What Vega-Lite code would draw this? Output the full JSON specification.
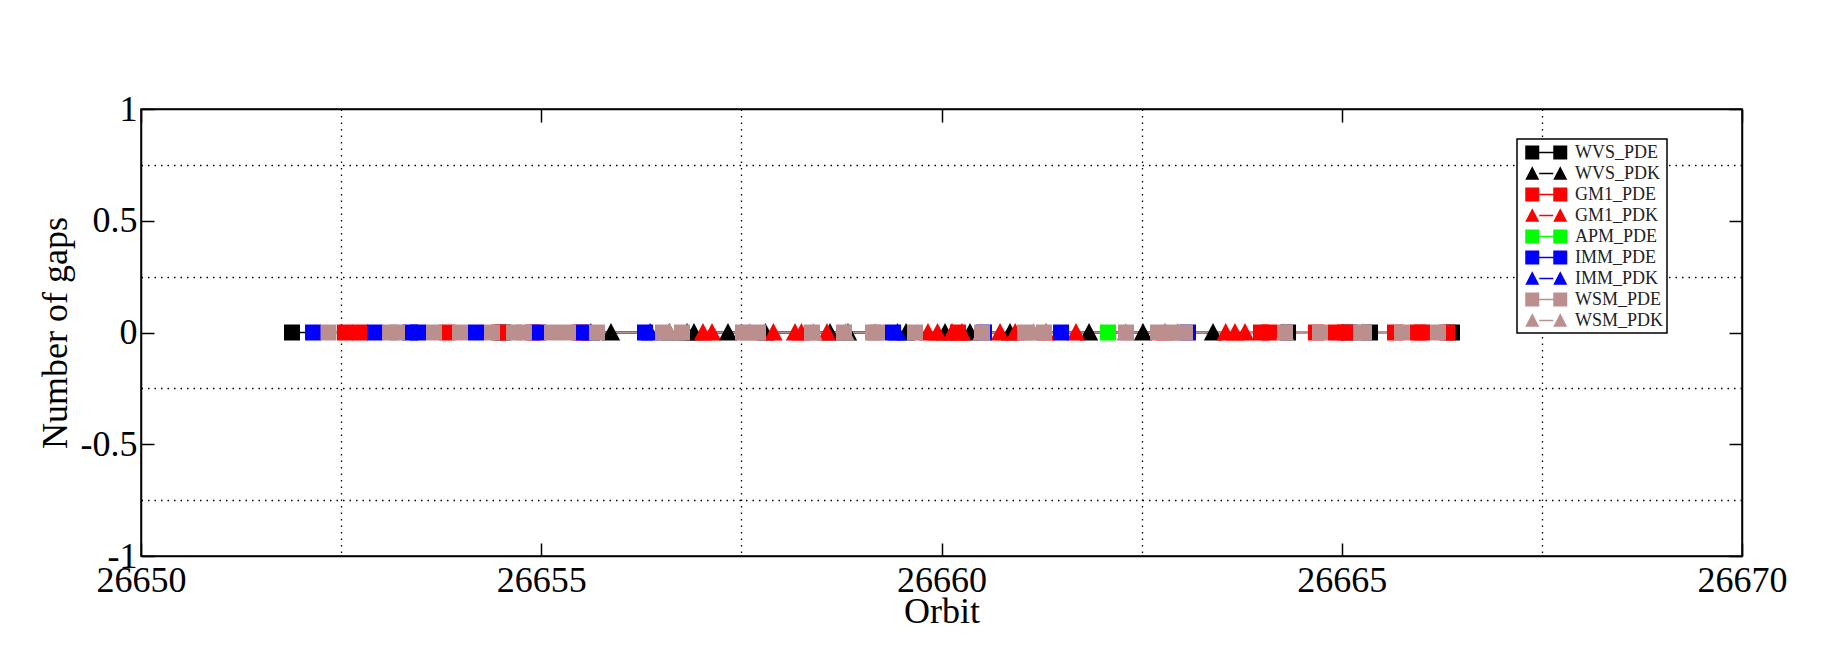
{
  "$schema": "https://vega.github.io/schema/vega-lite/v6.json",
  "width": 1601,
  "height": 447,
  "autosize": {"type": "none"},
  "padding": {"left": 141, "top": 109, "right": 106, "bottom": 94},
  "background": "white",
  "config": {
    "view": {"stroke": "black", "strokeWidth": 1.5},
    "font": "Liberation Serif",
    "axis": {"labelFont": "Liberation Serif", "titleFont": "Liberation Serif", "labelColor": "black", "titleColor": "black", "titleFontWeight": "normal", "domainColor": "black", "tickColor": "black", "labelOverlap": false, "labelFlush": false},
    "legend": {"strokeColor": "black", "strokeWidth": 1.5, "fillColor": "white"}
  },
  "data": {
    "values": [
      {"series": "WVS_PDE", "orbit": 26651.886, "gaps": 0},
      {"series": "WVS_PDE", "orbit": 26654.522, "gaps": 0},
      {"series": "WVS_PDE", "orbit": 26664.329, "gaps": 0},
      {"series": "WVS_PDE", "orbit": 26665.09, "gaps": 0},
      {"series": "WVS_PDE", "orbit": 26665.353, "gaps": 0},
      {"series": "WVS_PDE", "orbit": 26666.377, "gaps": 0},
      {"series": "WVS_PDK", "orbit": 26655.62, "gaps": 0},
      {"series": "WVS_PDK", "orbit": 26655.871, "gaps": 0},
      {"series": "WVS_PDK", "orbit": 26656.6, "gaps": 0},
      {"series": "WVS_PDK", "orbit": 26656.821, "gaps": 0},
      {"series": "WVS_PDK", "orbit": 26656.908, "gaps": 0},
      {"series": "WVS_PDK", "orbit": 26657.333, "gaps": 0},
      {"series": "WVS_PDK", "orbit": 26657.8, "gaps": 0},
      {"series": "WVS_PDK", "orbit": 26658.607, "gaps": 0},
      {"series": "WVS_PDK", "orbit": 26658.832, "gaps": 0},
      {"series": "WVS_PDK", "orbit": 26659.557, "gaps": 0},
      {"series": "WVS_PDK", "orbit": 26660.044, "gaps": 0},
      {"series": "WVS_PDK", "orbit": 26660.356, "gaps": 0},
      {"series": "WVS_PDK", "orbit": 26660.856, "gaps": 0},
      {"series": "WVS_PDK", "orbit": 26661.843, "gaps": 0},
      {"series": "WVS_PDK", "orbit": 26662.517, "gaps": 0},
      {"series": "WVS_PDK", "orbit": 26663.392, "gaps": 0},
      {"series": "GM1_PDE", "orbit": 26652.548, "gaps": 0},
      {"series": "GM1_PDE", "orbit": 26652.736, "gaps": 0},
      {"series": "GM1_PDE", "orbit": 26653.823, "gaps": 0},
      {"series": "GM1_PDE", "orbit": 26654.48, "gaps": 0},
      {"series": "GM1_PDE", "orbit": 26654.897, "gaps": 0},
      {"series": "GM1_PDE", "orbit": 26655.484, "gaps": 0},
      {"series": "GM1_PDE", "orbit": 26660.206, "gaps": 0},
      {"series": "GM1_PDE", "orbit": 26663.991, "gaps": 0},
      {"series": "GM1_PDE", "orbit": 26664.091, "gaps": 0},
      {"series": "GM1_PDE", "orbit": 26664.678, "gaps": 0},
      {"series": "GM1_PDE", "orbit": 26664.928, "gaps": 0},
      {"series": "GM1_PDE", "orbit": 26665.04, "gaps": 0},
      {"series": "GM1_PDE", "orbit": 26665.665, "gaps": 0},
      {"series": "GM1_PDE", "orbit": 26665.953, "gaps": 0},
      {"series": "GM1_PDE", "orbit": 26666.002, "gaps": 0},
      {"series": "GM1_PDE", "orbit": 26666.315, "gaps": 0},
      {"series": "GM1_PDK", "orbit": 26657.02, "gaps": 0},
      {"series": "GM1_PDK", "orbit": 26657.133, "gaps": 0},
      {"series": "GM1_PDK", "orbit": 26657.9, "gaps": 0},
      {"series": "GM1_PDK", "orbit": 26658.17, "gaps": 0},
      {"series": "GM1_PDK", "orbit": 26658.25, "gaps": 0},
      {"series": "GM1_PDK", "orbit": 26658.57, "gaps": 0},
      {"series": "GM1_PDK", "orbit": 26659.831, "gaps": 0},
      {"series": "GM1_PDK", "orbit": 26659.95, "gaps": 0},
      {"series": "GM1_PDK", "orbit": 26660.131, "gaps": 0},
      {"series": "GM1_PDK", "orbit": 26660.256, "gaps": 0},
      {"series": "GM1_PDK", "orbit": 26660.731, "gaps": 0},
      {"series": "GM1_PDK", "orbit": 26660.92, "gaps": 0},
      {"series": "GM1_PDK", "orbit": 26661.305, "gaps": 0},
      {"series": "GM1_PDK", "orbit": 26661.68, "gaps": 0},
      {"series": "GM1_PDK", "orbit": 26662.792, "gaps": 0},
      {"series": "GM1_PDK", "orbit": 26663.55, "gaps": 0},
      {"series": "GM1_PDK", "orbit": 26663.666, "gaps": 0},
      {"series": "GM1_PDK", "orbit": 26663.791, "gaps": 0},
      {"series": "APM_PDE", "orbit": 26662.08, "gaps": 0},
      {"series": "IMM_PDE", "orbit": 26652.149, "gaps": 0},
      {"series": "IMM_PDE", "orbit": 26652.923, "gaps": 0},
      {"series": "IMM_PDE", "orbit": 26653.36, "gaps": 0},
      {"series": "IMM_PDE", "orbit": 26653.46, "gaps": 0},
      {"series": "IMM_PDE", "orbit": 26654.185, "gaps": 0},
      {"series": "IMM_PDE", "orbit": 26654.959, "gaps": 0},
      {"series": "IMM_PDE", "orbit": 26655.522, "gaps": 0},
      {"series": "IMM_PDE", "orbit": 26656.296, "gaps": 0},
      {"series": "IMM_PDE", "orbit": 26659.394, "gaps": 0},
      {"series": "IMM_PDE", "orbit": 26660.531, "gaps": 0},
      {"series": "IMM_PDE", "orbit": 26661.493, "gaps": 0},
      {"series": "IMM_PDE", "orbit": 26663.079, "gaps": 0},
      {"series": "IMM_PDK", "orbit": 26656.36, "gaps": 0},
      {"series": "IMM_PDK", "orbit": 26659.45, "gaps": 0},
      {"series": "WSM_PDE", "orbit": 26652.342, "gaps": 0},
      {"series": "WSM_PDE", "orbit": 26653.111, "gaps": 0},
      {"series": "WSM_PDE", "orbit": 26653.198, "gaps": 0},
      {"series": "WSM_PDE", "orbit": 26653.66, "gaps": 0},
      {"series": "WSM_PDE", "orbit": 26653.985, "gaps": 0},
      {"series": "WSM_PDE", "orbit": 26654.385, "gaps": 0},
      {"series": "WSM_PDE", "orbit": 26654.66, "gaps": 0},
      {"series": "WSM_PDE", "orbit": 26654.784, "gaps": 0},
      {"series": "WSM_PDE", "orbit": 26655.134, "gaps": 0},
      {"series": "WSM_PDE", "orbit": 26655.334, "gaps": 0},
      {"series": "WSM_PDE", "orbit": 26655.696, "gaps": 0},
      {"series": "WSM_PDE", "orbit": 26656.521, "gaps": 0},
      {"series": "WSM_PDE", "orbit": 26656.758, "gaps": 0},
      {"series": "WSM_PDE", "orbit": 26657.52, "gaps": 0},
      {"series": "WSM_PDE", "orbit": 26657.708, "gaps": 0},
      {"series": "WSM_PDE", "orbit": 26658.382, "gaps": 0},
      {"series": "WSM_PDE", "orbit": 26658.782, "gaps": 0},
      {"series": "WSM_PDE", "orbit": 26659.144, "gaps": 0},
      {"series": "WSM_PDE", "orbit": 26659.194, "gaps": 0},
      {"series": "WSM_PDE", "orbit": 26659.669, "gaps": 0},
      {"series": "WSM_PDE", "orbit": 26660.506, "gaps": 0},
      {"series": "WSM_PDE", "orbit": 26661.043, "gaps": 0},
      {"series": "WSM_PDE", "orbit": 26661.28, "gaps": 0},
      {"series": "WSM_PDE", "orbit": 26662.305, "gaps": 0},
      {"series": "WSM_PDE", "orbit": 26662.705, "gaps": 0},
      {"series": "WSM_PDE", "orbit": 26662.88, "gaps": 0},
      {"series": "WSM_PDE", "orbit": 26663.042, "gaps": 0},
      {"series": "WSM_PDE", "orbit": 26664.291, "gaps": 0},
      {"series": "WSM_PDE", "orbit": 26664.728, "gaps": 0},
      {"series": "WSM_PDE", "orbit": 26665.24, "gaps": 0},
      {"series": "WSM_PDE", "orbit": 26665.278, "gaps": 0},
      {"series": "WSM_PDE", "orbit": 26665.753, "gaps": 0},
      {"series": "WSM_PDE", "orbit": 26666.202, "gaps": 0},
      {"series": "WSM_PDK", "orbit": 26656.6, "gaps": 0},
      {"series": "WSM_PDK", "orbit": 26657.6, "gaps": 0},
      {"series": "WSM_PDK", "orbit": 26658.4, "gaps": 0},
      {"series": "WSM_PDK", "orbit": 26658.8, "gaps": 0},
      {"series": "WSM_PDK", "orbit": 26659.17, "gaps": 0},
      {"series": "WSM_PDK", "orbit": 26660.5, "gaps": 0},
      {"series": "WSM_PDK", "orbit": 26661.15, "gaps": 0},
      {"series": "WSM_PDK", "orbit": 26662.3, "gaps": 0},
      {"series": "WSM_PDK", "orbit": 26662.95, "gaps": 0},
      {"series": "WSM_PDK", "orbit": 26664.29, "gaps": 0},
      {"series": "WSM_PDK", "orbit": 26665.26, "gaps": 0}
    ]
  },
  "layer": [
    {
      "mark": {"type": "point", "opacity": 0},
      "encoding": {
        "x": {"field": "orbit", "type": "quantitative", "scale": {"domain": [26650, 26670], "nice": false, "zero": false},
          "axis": {"orient": "bottom", "values": [26652.5, 26657.5, 26662.5, 26667.5], "grid": true, "gridDash": [1.5, 5], "gridColor": "black", "gridWidth": 1.3, "gridOpacity": 1, "ticks": false, "labels": false, "domain": false, "title": null}},
        "y": {"field": "gaps", "type": "quantitative", "scale": {"domain": [-1, 1], "nice": false, "zero": false},
          "axis": {"orient": "left", "values": [-0.75, -0.25, 0.25, 0.75], "grid": true, "gridDash": [1.5, 5], "gridColor": "black", "gridWidth": 1.3, "gridOpacity": 1, "ticks": false, "labels": false, "domain": false, "title": null}}
      }
    },
    {
      "mark": {"type": "line", "strokeWidth": 1.5},
      "encoding": {
        "x": {"field": "orbit", "type": "quantitative",
          "axis": {"orient": "bottom", "values": [26650, 26655, 26660, 26665, 26670], "labelExpr": "datum.value + ''", "grid": false, "tickSize": -13, "tickWidth": 1.5, "domainWidth": 1.5, "labelFontSize": 36, "labelPadding": 20, "title": "Orbit", "titleFontSize": 36, "titlePadding": -4}},
        "y": {"field": "gaps", "type": "quantitative",
          "axis": {"orient": "left", "values": [-1, -0.5, 0, 0.5, 1], "labelExpr": "datum.value + ''", "grid": false, "tickSize": -13, "tickWidth": 1.5, "domainWidth": 1.5, "labelFontSize": 36, "labelPadding": 17, "title": "Number of gaps", "titleFontSize": 36, "titlePadding": 6}},
        "stroke": {"field": "series", "type": "nominal", "legend": null,
          "scale": {"range": ["#00ff00", "#ff0000", "#ff0000", "#0000ff", "#0000ff", "#bc8f8f", "#bc8f8f", "#000000", "#000000"]}}
      }
    },
    {
      "mark": {"type": "point", "filled": true, "opacity": 1, "strokeWidth": 0, "size": 256},
      "encoding": {
        "x": {"field": "orbit", "type": "quantitative",
          "axis": {"orient": "top", "values": [26650, 26655, 26660, 26665, 26670], "grid": false, "tickSize": -13, "tickWidth": 1.5, "domainWidth": 1.5, "labels": false, "title": null}},
        "y": {"field": "gaps", "type": "quantitative",
          "axis": {"orient": "right", "values": [-1, -0.5, 0, 0.5, 1], "grid": false, "tickSize": -13, "tickWidth": 1.5, "domainWidth": 1.5, "labels": false, "title": null}},
        "color": {"field": "series", "type": "nominal",
          "scale": {"domain": ["WVS_PDE", "WVS_PDK", "GM1_PDE", "GM1_PDK", "APM_PDE", "IMM_PDE", "IMM_PDK", "WSM_PDE", "WSM_PDK"],
            "range": ["#000000", "#000000", "#ff0000", "#ff0000", "#00ff00", "#0000ff", "#0000ff", "#bc8f8f", "#bc8f8f"]},
          "legend": {
            "orient": "none", "legendX": 1376, "legendY": 30, "title": null,
            "strokeColor": "black", "fillColor": "white", "padding": 3,
            "symbolSize": 441, "symbolStrokeWidth": 0, "symbolOpacity": 1,
            "labelFont": "Liberation Serif", "labelFontSize": 18, "labelColor": "#222222", "labelOffset": 34, "rowPadding": 1,
            "encoding": {"symbols": {"shape": {"value": {"expr": "indexof(['WVS_PDK','GM1_PDK','IMM_PDK','WSM_PDK'], datum.value) >= 0 ? 'M-0.5,0.6L0.167,-0.7L0.833,0.6Z M2.167,0.6L2.833,-0.7L3.5,0.6Z M0.833,-0.08H2.167V0.08H0.833Z' : 'M-0.5,-0.667H0.833V0.667H-0.5Z M2.167,-0.667H3.5V0.667H2.167Z M0.833,-0.08H2.167V0.08H0.833Z'"}}}}
          }},
        "shape": {"field": "series", "type": "nominal", "legend": null,
          "scale": {"range": ["square", "square", "M0,-1.2L1.15,1L-1.15,1Z", "square", "M0,-1.2L1.15,1L-1.15,1Z", "square", "M0,-1.2L1.15,1L-1.15,1Z", "square", "M0,-1.2L1.15,1L-1.15,1Z"]}}
      }
    }
  ],
  "resolve": {"axis": {"x": "independent", "y": "independent"}}
}
